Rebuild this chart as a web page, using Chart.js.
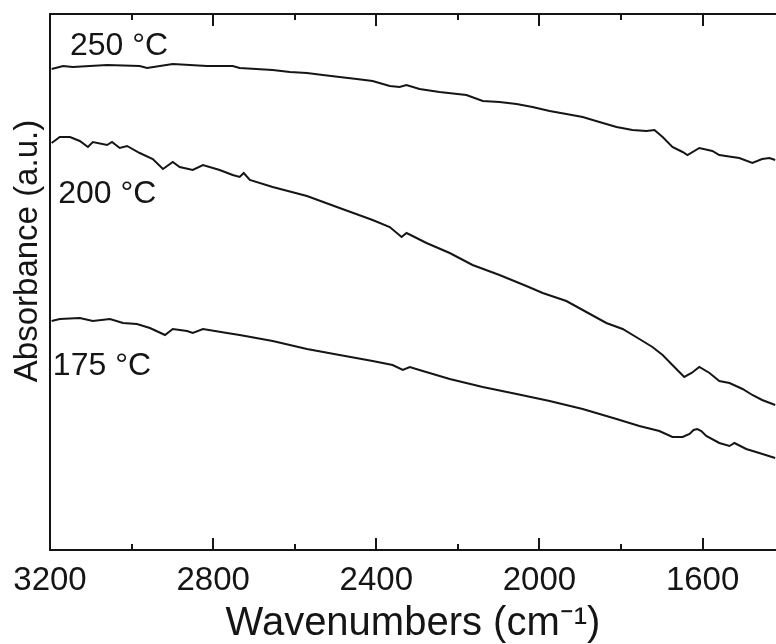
<!DOCTYPE html>
<html>
<head>
<meta charset="utf-8">
<script src="https://cdn.jsdelivr.net/npm/chart.js@4"></script>
<style>
  html, body { margin: 0; padding: 0; background: #fff; }
  canvas { display: block; }
</style>
</head>
<body>
<canvas id="ftir" width="776" height="644"></canvas>
<script>
// wavenumbers (cm-1) and absorbance (a.u.)
var wn250 = [3196,3168,3144,3060,2980,2962,2899,2815,2752,2735,2654,2612,2570,2531,2490,2448,2409,2367,2343,2326,2294,2245,2179,2139,2098,2056,2017,1975,1934,1894,1853,1811,1772,1738,1718,1698,1674,1649,1637,1608,1576,1559,1527,1510,1478,1454,1436,1422];
var abs250 = [4.81,4.84,4.83,4.85,4.84,4.82,4.86,4.84,4.84,4.82,4.80,4.78,4.77,4.75,4.73,4.71,4.69,4.64,4.63,4.65,4.61,4.58,4.55,4.49,4.48,4.46,4.43,4.39,4.36,4.33,4.28,4.23,4.20,4.19,4.20,4.13,4.03,3.98,3.95,4.02,3.99,3.95,3.93,3.92,3.87,3.91,3.92,3.90];

var wn200 = [3196,3176,3151,3127,3107,3095,3060,3048,3029,3011,2980,2948,2923,2899,2882,2850,2825,2784,2752,2735,2725,2710,2654,2570,2490,2409,2367,2338,2326,2311,2277,2220,2164,2098,2032,1992,1934,1885,1836,1796,1755,1723,1698,1674,1645,1627,1608,1583,1559,1534,1502,1478,1454,1422];
var abs200 = [4.07,4.13,4.13,4.09,4.03,4.08,4.05,4.08,4.02,4.04,3.97,3.91,3.81,3.88,3.83,3.80,3.85,3.80,3.75,3.73,3.77,3.70,3.63,3.54,3.42,3.30,3.23,3.13,3.17,3.14,3.07,2.97,2.85,2.75,2.64,2.57,2.49,2.38,2.27,2.21,2.11,2.03,1.95,1.85,1.73,1.77,1.83,1.77,1.69,1.67,1.61,1.55,1.50,1.45];

var wn175 = [3196,3176,3127,3095,3053,3021,2987,2955,2918,2899,2864,2850,2825,2766,2735,2654,2570,2490,2409,2360,2335,2318,2286,2220,2139,2056,1975,1894,1811,1755,1706,1674,1649,1632,1622,1613,1603,1591,1559,1534,1522,1493,1461,1422];
var abs175 = [2.29,2.31,2.32,2.29,2.31,2.27,2.26,2.22,2.15,2.21,2.19,2.17,2.21,2.17,2.15,2.09,2.01,1.95,1.89,1.85,1.80,1.83,1.79,1.71,1.63,1.56,1.49,1.41,1.31,1.24,1.19,1.13,1.13,1.16,1.20,1.21,1.19,1.14,1.07,1.04,1.07,1.01,0.97,0.92];

var xTickValues = [3200, 2800, 2400, 2000, 1600];
var xMinorTicks = [3000, 2600, 2200, 1800];
var curveNames = ["250 °C", "200 °C", "175 °C"];

var FONT = "'Liberation Sans', Arial, Helvetica, sans-serif";
var INK = "#151515";

function pts(xs, ys) {
  return xs.map(function (x, i) { return { x: x, y: ys[i] }; });
}

// inward ticks on bottom and top axes, curve labels and y title
var decor = {
  id: "decor",
  afterDraw: function (chart) {
    var ctx = chart.ctx;
    var xs = chart.scales.x, ys = chart.scales.y;
    var a = chart.chartArea;
    ctx.save();
    ctx.strokeStyle = INK;
    ctx.lineWidth = 2;
    function tick(v, len) {
      var px = Math.round(xs.getPixelForValue(v));
      ctx.beginPath();
      ctx.moveTo(px, a.bottom); ctx.lineTo(px, a.bottom - len);
      ctx.moveTo(px, a.top); ctx.lineTo(px, a.top + len);
      ctx.stroke();
    }
    xTickValues.forEach(function (v) { tick(v, 12); });
    xMinorTicks.forEach(function (v) { tick(v, 6); });

    ctx.fillStyle = INK;
    ctx.font = "32px " + FONT;
    ctx.textAlign = "left";
    ctx.textBaseline = "alphabetic";
    var lx = [3151, 3180, 3193], ly = [4.95, 3.47, 1.75];
    curveNames.forEach(function (t, i) {
      ctx.fillText(t, xs.getPixelForValue(lx[i]), ys.getPixelForValue(ly[i]));
    });

    ctx.font = "33px " + FONT;
    ctx.translate(28, 251);
    ctx.rotate(-Math.PI / 2);
    ctx.textAlign = "center";
    ctx.textBaseline = "middle";
    ctx.fillText("Absorbance (a.u.)", 0, 0);
    ctx.restore();
  }
};

function lineSet(label, xs, ys) {
  return {
    label: label,
    data: pts(xs, ys),
    borderColor: INK,
    borderWidth: 2,
    pointRadius: 0,
    tension: 0,
    fill: false
  };
}

new Chart(document.getElementById("ftir"), {
  type: "line",
  data: {
    datasets: [
      lineSet(curveNames[0], wn250, abs250),
      lineSet(curveNames[1], wn200, abs200),
      lineSet(curveNames[2], wn175, abs175)
    ]
  },
  options: {
    responsive: false,
    animation: false,
    devicePixelRatio: 1,
    layout: { padding: 0 },
    plugins: { legend: { display: false }, tooltip: { enabled: false } },
    scales: {
      x: {
        type: "linear",
        position: "bottom",
        reverse: true,
        min: 1420,
        max: 3200,
        afterBuildTicks: function (s) {
          s.ticks = xTickValues.map(function (v) { return { value: v }; });
        },
        afterFit: function (s) { s.height = 94; },
        grid: { display: false, drawTicks: false },
        border: { display: true, color: INK, width: 2 },
        ticks: {
          color: INK,
          font: { size: 33, family: FONT },
          padding: 11,
          maxRotation: 0,
          autoSkip: false,
          callback: function (v) { return String(v); }
        },
        title: {
          display: true,
          text: "Wavenumbers (cm⁻¹)",
          color: INK,
          font: { size: 40, family: FONT },
          padding: { top: 0, bottom: -4 }
        }
      },
      xTop: {
        type: "linear",
        position: "top",
        reverse: true,
        min: 1420,
        max: 3200,
        afterFit: function (s) { s.height = 14; },
        grid: { display: false, drawTicks: false },
        border: { display: true, color: INK, width: 2 },
        ticks: { display: false }
      },
      y: {
        type: "linear",
        position: "left",
        min: 0,
        max: 5.36,
        afterFit: function (s) { s.width = 50; },
        grid: { display: false, drawTicks: false },
        border: { display: true, color: INK, width: 2 },
        ticks: { display: false }
      }
    }
  },
  plugins: [decor]
});
</script>
</body>
</html>
